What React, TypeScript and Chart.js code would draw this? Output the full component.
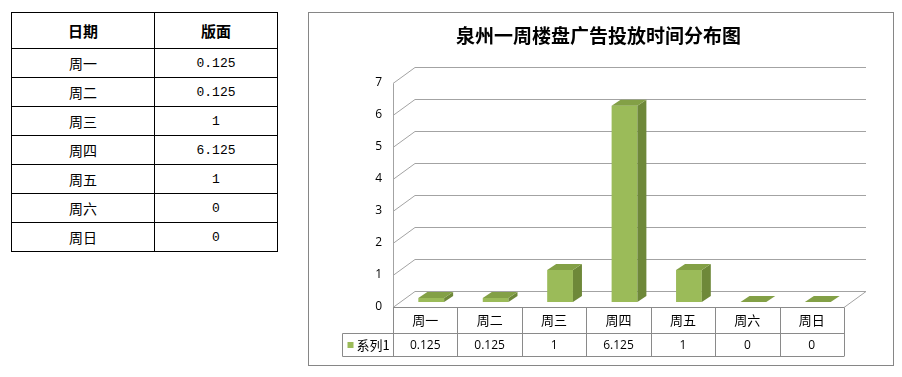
import React, { useEffect, useRef } from 'react';
import { Chart, registerables } from 'chart.js';

Chart.register(...registerables);

const chartTitle = '泉州一周楼盘广告投放时间分布图';
const days = ['周一', '周二', '周三', '周四', '周五', '周六', '周日'];
const values = [0.125, 0.125, 1, 6.125, 1, 0, 0];
const valueLabels = ['0.125', '0.125', '1', '6.125', '1', '0', '0'];
const seriesName = '系列1';
const tableHeaders = ['日期', '版面'];
const tableValueText = ['0.125', '0.125', '1', '6.125', '1', '0', '0'];
const yMin = 0;
const yMax = 7;

// 3D geometry (style, not data)
const WALL_DX = 22;
const WALL_DY = -16;
const BAR_SHIFT_X = 6;
const BAR_SHIFT_Y = -5;
const BAR_DX = 9;
const BAR_DY = -6;
const FRONT = '#9bbb59';
const SIDE = '#6e8839';
const TOP = '#83a046';
const GRID = '#a3a3a3';
const TABLE_LINE = '#8a8a8a';
const CJK = '"Noto Sans CJK SC", sans-serif';
const LATIN = '"Open Sans", "Liberation Sans", sans-serif';

const threeDPlugin = {
  id: 'threeD',
  beforeDatasetsDraw(chart: any) {
    const { ctx, chartArea, scales } = chart;
    const { left, right } = chartArea;
    const y = scales.y;
    ctx.save();
    ctx.strokeStyle = GRID;
    ctx.lineWidth = 1;
    y.ticks.forEach((t: any) => {
      const py = Math.round(y.getPixelForValue(t.value)) + 0.5;
      ctx.beginPath();
      ctx.moveTo(left, py);
      ctx.lineTo(left + WALL_DX, py + WALL_DY);
      ctx.lineTo(right + WALL_DX, py + WALL_DY);
      ctx.stroke();
    });
    // front axis line
    const y0 = Math.round(y.getPixelForValue(yMin)) + 0.5;
    const yTop = Math.round(y.getPixelForValue(yMax)) + 0.5;
    ctx.beginPath();
    ctx.moveTo(left + 0.5, yTop);
    ctx.lineTo(left + 0.5, y0);
    ctx.stroke();
    // floor right edge
    ctx.beginPath();
    ctx.moveTo(right, y0);
    ctx.lineTo(right + WALL_DX, y0 + WALL_DY);
    ctx.stroke();
    ctx.restore();
    ctx.save();
    ctx.translate(BAR_SHIFT_X, BAR_SHIFT_Y);
  },
  afterDatasetsDraw(chart: any) {
    const { ctx } = chart;
    ctx.restore();
    const meta = chart.getDatasetMeta(0);
    ctx.save();
    meta.data.forEach((bar: any) => {
      const p = bar.getProps(['x', 'y', 'base', 'width'], true);
      const l = p.x - p.width / 2 + BAR_SHIFT_X;
      const r = p.x + p.width / 2 + BAR_SHIFT_X;
      const t = Math.min(p.y, p.base) + BAR_SHIFT_Y;
      const b = Math.max(p.y, p.base) + BAR_SHIFT_Y;
      // side
      ctx.fillStyle = SIDE;
      ctx.beginPath();
      ctx.moveTo(r, t);
      ctx.lineTo(r + BAR_DX, t + BAR_DY);
      ctx.lineTo(r + BAR_DX, b + BAR_DY);
      ctx.lineTo(r, b);
      ctx.closePath();
      ctx.fill();
      // top
      ctx.fillStyle = TOP;
      ctx.beginPath();
      ctx.moveTo(l, t);
      ctx.lineTo(r, t);
      ctx.lineTo(r + BAR_DX, t + BAR_DY);
      ctx.lineTo(l + BAR_DX, t + BAR_DY);
      ctx.closePath();
      ctx.fill();
    });
    ctx.restore();
  },
  afterDraw(chart: any) {
    const { ctx, chartArea, scales } = chart;
    const { left, right } = chartArea;
    const y = scales.y;
    const x = scales.x;
    const y0 = Math.round(y.getPixelForValue(yMin)) + 0.5;
    const rowH1 = 26;
    const rowH2 = 23;
    const yMid = y0 + rowH1;
    const yEnd = yMid + rowH2;
    const legendLeft = Math.round(left - 51) + 0.5;
    const n = days.length;
    const step = (right - left) / n;
    ctx.save();
    ctx.strokeStyle = TABLE_LINE;
    ctx.lineWidth = 1;
    ctx.beginPath();
    ctx.moveTo(left, y0);
    ctx.lineTo(right, y0);
    ctx.moveTo(legendLeft, yMid);
    ctx.lineTo(right, yMid);
    ctx.moveTo(legendLeft, yEnd);
    ctx.lineTo(right, yEnd);
    ctx.moveTo(legendLeft, yMid);
    ctx.lineTo(legendLeft, yEnd);
    for (let i = 0; i <= n; i++) {
      const bx = Math.round(left + i * step) + 0.5;
      ctx.moveTo(bx, y0);
      ctx.lineTo(bx, yEnd);
    }
    ctx.stroke();
    ctx.fillStyle = '#000';
    ctx.textAlign = 'center';
    ctx.textBaseline = 'middle';
    days.forEach((d, i) => {
      const cx = x.getPixelForValue(i);
      ctx.font = `13px ${CJK}`;
      ctx.fillText(d, cx, (y0 + yMid) / 2);
      ctx.font = `12px ${LATIN}`;
      ctx.fillText(tableValueText[i], cx, (yMid + yEnd) / 2 + 0.5);
    });
    // legend key
    ctx.fillStyle = FRONT;
    ctx.fillRect(legendLeft + 5, (yMid + yEnd) / 2 - 3, 6, 6);
    ctx.fillStyle = '#000';
    ctx.textAlign = 'left';
    ctx.font = `13px ${CJK}`;
    ctx.fillText(seriesName, legendLeft + 14, (yMid + yEnd) / 2);
    ctx.restore();
  },
};

function ChartPanel() {
  const ref = useRef<HTMLCanvasElement | null>(null);
  useEffect(() => {
    if (!ref.current) return;
    const chart = new Chart(ref.current, {
      type: 'bar',
      data: {
        labels: days,
        datasets: [
          {
            label: seriesName,
            data: values,
            backgroundColor: FRONT,
            borderWidth: 0,
            categoryPercentage: 1,
            barPercentage: 0.4,
            clip: false as any,
          },
        ],
      },
      options: {
        responsive: false,
        animation: false,
        devicePixelRatio: 1,
        layout: { padding: { left: 44, right: 49, top: 0, bottom: 58 } },
        plugins: {
          legend: { display: false },
          tooltip: { enabled: false },
          title: {
            display: true,
            text: chartTitle,
            color: '#000',
            font: { size: 19, weight: 'bold', family: CJK },
            padding: { top: 11, bottom: 36 },
          },
        },
        scales: {
          x: { display: false, offset: true, grid: { display: false } },
          y: {
            min: yMin,
            max: yMax,
            ticks: { stepSize: 1, padding: 11, color: '#000', font: { size: 12, family: LATIN } },
            grid: { display: false, drawTicks: false },
            border: { display: false },
            afterFit: (s: any) => {
              s.width = 40;
            },
          },
        },
      },
      plugins: [threeDPlugin],
    });
    return () => chart.destroy();
  }, []);
  return <canvas ref={ref} width={584} height={352} style={{ display: 'block' }} />;
}

export default function App() {
  const cell: React.CSSProperties = {
    border: '1px solid #000',
    textAlign: 'center',
    verticalAlign: 'middle',
    padding: 0,
    fontSize: 14,
    fontFamily: CJK,
    color: '#000',
  };
  return (
    <div style={{ position: 'absolute', left: 0, top: 0, width: 902, height: 377, background: '#fff' }}>
      <table
        style={{
          position: 'absolute',
          left: 11,
          top: 12,
          width: 266,
          borderCollapse: 'collapse',
          tableLayout: 'fixed',
        }}
      >
        <colgroup>
          <col style={{ width: 143 }} />
          <col style={{ width: 123 }} />
        </colgroup>
        <tbody>
          <tr style={{ height: 36 }}>
            {tableHeaders.map((h) => (
              <td key={h} style={{ ...cell, fontWeight: 'bold', fontSize: 15 }}>
                {h}
              </td>
            ))}
          </tr>
          {days.map((d, i) => (
            <tr key={d} style={{ height: 29 }}>
              <td style={cell}>{d}</td>
              <td style={{ ...cell, fontFamily: '"Liberation Mono", monospace', fontSize: 13 }}>
                {valueLabels[i]}
              </td>
            </tr>
          ))}
        </tbody>
      </table>
      <div
        style={{
          position: 'absolute',
          left: 308,
          top: 12,
          width: 586,
          height: 354,
          boxSizing: 'border-box',
          border: '1px solid #868686',
        }}
      >
        <ChartPanel />
      </div>
    </div>
  );
}
